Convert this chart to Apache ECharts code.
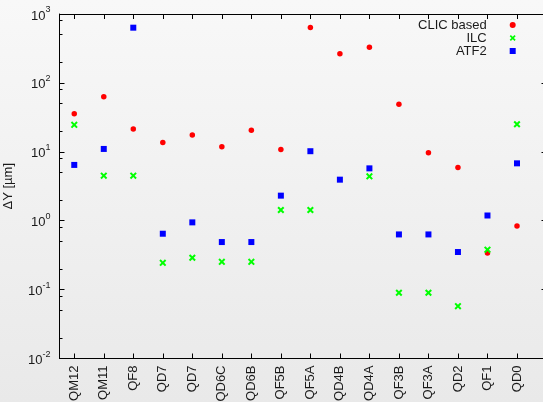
<!DOCTYPE html>
<html>
<head>
<meta charset="utf-8">
<script src="https://cdn.jsdelivr.net/npm/echarts@6/dist/echarts.min.js"></script>
<style>
html,body{margin:0;padding:0;background:#f0f0f0;}
#chart{width:543px;height:402px;}
</style>
</head>
<body>
<div id="chart"></div>
<script>
const categories = ['QM12','QM11','QF8','QD7','QD7','QD6C','QD6B','QF5B','QF5A','QD4B','QD4A','QF3B','QF3A','QD2','QF1','QD0'];
const clicBased = [35.6, 62.8, 21.5, 13.7, 17.6, 11.8, 20.5, 10.8, 638, 265, 330, 49, 9.7, 5.9, 0.34, 0.84];
const ilc = [24.6, 4.5, 4.5, 0.245, 0.29, 0.253, 0.253, 1.43, 1.43, null, 4.4, 0.09, 0.09, 0.0575, 0.38, 25.1];
const atf2 = [6.45, 11.0, 633, 0.647, 0.946, 0.49, 0.49, 2.31, 10.2, 3.94, 5.75, 0.632, 0.632, 0.351, 1.19, 6.8];
const yExponents = [-2, -1, 0, 1, 2, 3];
const minorTickValues = [0.02,0.05,0.08,0.2,0.5,0.8,2,5,8,20,50,80,200,500,800];

const FONT = 'Liberation Sans, Arial, sans-serif';
const TXT = '#1a1a1a';
const X_SYMBOL = 'path://M0,2 L2,0 L5,3 L8,0 L10,2 L7,5 L10,8 L8,10 L5,7 L2,10 L0,8 L3,5 Z';
const SQ_SYMBOL = 'path://M0,0 L10,0 L10,10 L0,10 Z';
const DOT_SYMBOL = 'path://M5,0 A5,5 0 1 1 4.99,0 Z';
const catIdx = categories.map((c, i) => i);
const toPts = arr => arr.map((v, i) => [i, v]).filter(p => p[1] != null);
const minorLog = minorTickValues.map(v => Math.log10(v));

const chart = echarts.init(document.getElementById('chart'), null, {renderer: 'canvas'});
const xCommon = {
  type: 'value', min: -0.5, max: 16, gridIndex: 0,
  splitLine: {show: false},
  axisLine: {show: true, onZero: false, lineStyle: {color: '#000', width: 1}},
};
chart.setOption({
  backgroundColor: {type: 'linear', x: 0, y: 0, x2: 0, y2: 1,
    colorStops: [{offset: 0, color: '#f8f8f8'}, {offset: 1, color: '#e9e9e9'}]},
  animation: false,
  textStyle: {fontFamily: FONT},
  grid: {left: 59.5, top: 14, width: 487, height: 344.5, containLabel: false, outerBoundsMode: 'none'},
  legend: {
    orient: 'vertical', align: 'right', right: 27.3, top: 18.5, padding: 0,
    itemWidth: 42, itemHeight: 6, itemGap: 0, symbolKeepAspect: true,
    textStyle: {fontSize: 13, color: TXT, fontFamily: FONT},
    data: [
      {name: 'CLIC based', icon: DOT_SYMBOL},
      {name: 'ILC', icon: X_SYMBOL},
      {name: 'ATF2', icon: SQ_SYMBOL}
    ]
  },
  xAxis: [
    Object.assign({}, xCommon, {
      position: 'bottom',
      axisTick: {show: true, inside: true, length: 5, customValues: catIdx, lineStyle: {color: '#000'}},
      axisLabel: {show: true, rotate: 90, margin: 7, customValues: catIdx, fontSize: 13, color: TXT, fontFamily: FONT,
        formatter: v => categories[Math.round(v)]}
    }),
    Object.assign({}, xCommon, {
      position: 'top',
      axisTick: {show: true, inside: true, length: 5, customValues: catIdx, lineStyle: {color: '#000'}},
      axisLabel: {show: false}
    })
  ],
  yAxis: [
    {
      type: 'log', logBase: 10, min: 0.01, max: 1000, position: 'left',
      name: 'ΔY [µm]', nameLocation: 'middle', nameGap: 45, nameRotate: 90,
      nameTextStyle: {fontSize: 13, color: TXT, fontFamily: FONT},
      splitLine: {show: false},
      axisLine: {show: true, onZero: false, lineStyle: {color: '#000', width: 1}},
      axisTick: {show: true, inside: true, length: 5, lineStyle: {color: '#000'}},
      minorTick: {show: false},
      axisLabel: {
        margin: 9, color: TXT, fontFamily: FONT,
        formatter: v => {
          const e = Math.round(Math.log10(v));
          const lab = yExponents.includes(e) ? String(e) : '';
          return '{b|10}{s|' + lab + '}';
        },
        rich: {
          b: {fontSize: 13, lineHeight: 17, color: TXT, fontFamily: FONT, verticalAlign: 'bottom'},
          s: {fontSize: 9, lineHeight: 9, color: TXT, fontFamily: FONT, verticalAlign: 'top'}
        }
      }
    },
    {
      type: 'value', min: -2, max: 3, position: 'left',
      splitLine: {show: false}, axisLine: {show: false, onZero: false}, axisLabel: {show: false},
      axisTick: {show: true, inside: true, length: 3, customValues: minorLog, lineStyle: {color: '#000'}}
    },
    {
      type: 'value', min: -2, max: 3, position: 'right',
      splitLine: {show: false}, axisLabel: {show: false},
      axisLine: {show: true, onZero: false, lineStyle: {color: '#000', width: 1}},
      axisTick: {show: true, inside: true, length: 5, customValues: yExponents, lineStyle: {color: '#000'}}
    }
  ],
  series: [
    {
      name: 'CLIC based', type: 'scatter', xAxisIndex: 0, yAxisIndex: 0,
      symbol: 'circle', symbolSize: 5.5,
      itemStyle: {color: '#ff0000', opacity: 1},
      data: toPts(clicBased), z: 2
    },
    {
      name: 'ILC', type: 'scatter', xAxisIndex: 0, yAxisIndex: 0,
      symbol: X_SYMBOL, symbolSize: 7, symbolKeepAspect: true,
      itemStyle: {color: '#00ff00', opacity: 1},
      data: toPts(ilc), z: 3
    },
    {
      name: 'ATF2', type: 'scatter', xAxisIndex: 0, yAxisIndex: 0,
      symbol: 'rect', symbolSize: 6,
      itemStyle: {color: '#0000ff', opacity: 1},
      data: toPts(atf2), z: 4
    }
  ]
});
</script>
</body>
</html>
